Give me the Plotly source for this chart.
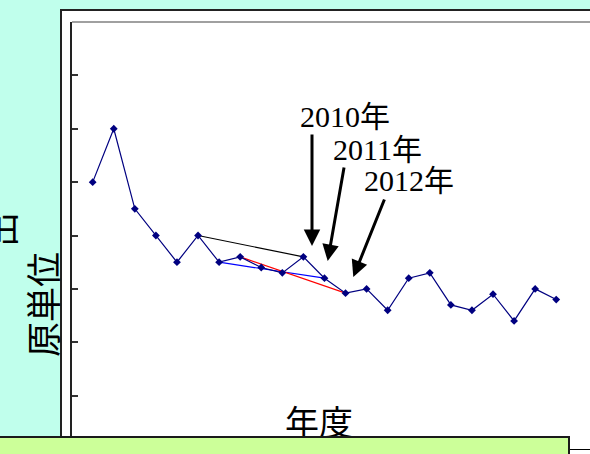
import plotly.graph_objects as go

# Fiscal years and intensity values
years = list(range(2000, 2023))
intensity = [50, 60, 45, 40, 35, 40, 35, 36, 34, 33, 36, 32, 29.2, 30, 26,
             32, 33, 27, 26, 29, 24, 30, 28]

# Five-year comparison segments: (start year, end year, colour)
compare_pairs = [(2005, 2010, "#000000"), (2006, 2011, "#0000FF"), (2007, 2012, "#FF0000")]

# Highlighted years and their callout labels
callout_years = ["2010年", "2011年", "2012年"]

y_title = "原単位"
y_title_prev = "出"
x_title = "年度"

W, H = 590, 454
L, T, R, B = 72, 22, 0, 5
PW, PH = W - L - R, H - T - B

X0, X1 = 1999.018, 1999.018 + PW / 21.07
Y0, Y1 = 0, 80


def px(p):
    return (p - L) / PW


def py(p):
    return (H - B - p) / PH


def data_x(p):
    return X0 + (p - L) / PW * (X1 - X0)


def data_y(p):
    return Y0 + (H - B - p) / PH * (Y1 - Y0)


value_of = dict(zip(years, intensity))

fig = go.Figure()

for a, b, col in compare_pairs:
    fig.add_trace(go.Scatter(
        x=[a, b], y=[value_of[a], value_of[b]], mode="lines",
        line=dict(color=col, width=1.2), hoverinfo="skip", showlegend=False))

fig.add_trace(go.Scatter(
    x=years, y=intensity, mode="lines+markers",
    line=dict(color="#000080", width=1.2),
    marker=dict(symbol="diamond", size=6, color="#000080"),
    showlegend=False))

# x-axis title as in-plot text so the footer panel can overlap it
fig.add_trace(go.Scatter(
    x=[data_x(319)], y=[data_y(426)], mode="text", text=[x_title],
    textfont=dict(family="Noto Sans CJK JP", size=34, color="#000000"),
    hoverinfo="skip", showlegend=False, cliponaxis=False))

shapes = [
    # chart frame
    dict(type="rect", xref="paper", yref="paper",
         x0=px(61), x1=px(620), y0=py(480), y1=py(10),
         fillcolor="#FFFFFF", line=dict(color="#222222", width=2), layer="below"),
    # top border of plot area
    dict(type="line", xref="paper", yref="paper",
         x0=0, x1=px(620), y0=1, y1=1,
         line=dict(color="#A0A0A0", width=2)),
    # footer panel
    dict(type="rect", xref="paper", yref="paper",
         x0=px(-10), x1=px(569), y0=py(480), y1=py(437),
         fillcolor="#CCFF99", line=dict(color="#1A1A1A", width=2), layer="above"),
]

annotations = [
    dict(text=y_title, xref="paper", yref="paper", x=px(41), y=py(305),
         textangle=-90, showarrow=False, xanchor="center", yanchor="middle",
         font=dict(family="Noto Sans CJK JP", size=35, color="#000000")),
    dict(text=y_title_prev, xref="paper", yref="paper", x=px(-1), y=py(230),
         textangle=-90, showarrow=False, xanchor="center", yanchor="middle",
         font=dict(family="Noto Sans CJK JP", size=35, color="#000000")),
]

# arrows: tip and tail in pixels
arrows = [((312, 246), (312, 133)), ((327.7, 261), (344.3, 166)), ((353.3, 277), (385, 198))]
labels_pos = [(345, 116), (377, 149), (409, 180)]

for (tip, tail), lab, lp in zip(arrows, callout_years, labels_pos):
    annotations.append(dict(
        text="", xref="paper", yref="paper", x=px(tip[0]), y=py(tip[1]),
        ax=tail[0] - tip[0], ay=tail[1] - tip[1], showarrow=True,
        arrowhead=2, arrowsize=1.1, arrowwidth=3, arrowcolor="#000000"))
    annotations.append(dict(
        text=lab, xref="paper", yref="paper", x=px(lp[0]), y=py(lp[1]),
        showarrow=False, xanchor="center", yanchor="middle",
        font=dict(family="Liberation Serif, Noto Sans CJK JP", size=30, color="#000000")))

fig.update_layout(
    width=W, height=H, autosize=False,
    margin=dict(l=L, r=R, t=T, b=B, pad=0),
    paper_bgcolor="#C0FFEC", plot_bgcolor="#FFFFFF",
    shapes=shapes, annotations=annotations,
    xaxis=dict(range=[X0, X1], showgrid=False, zeroline=False,
               showline=True, linecolor="#000000", linewidth=1,
               ticks="", showticklabels=False, fixedrange=True),
    yaxis=dict(range=[Y0, Y1], showgrid=False, zeroline=False,
               showline=True, linecolor="#222222", linewidth=2,
               ticks="inside", ticklen=6, tickwidth=1.5, tickcolor="#333333",
               dtick=10, tick0=0, showticklabels=False, fixedrange=True),
)

fig.write_html("out.html", config={"displayModeBar": False})
